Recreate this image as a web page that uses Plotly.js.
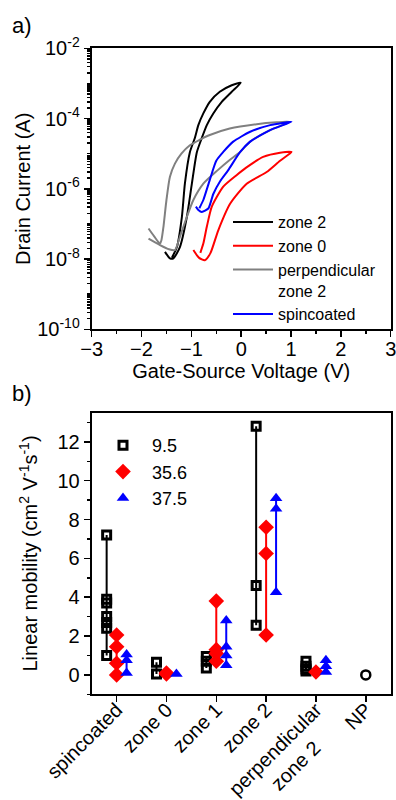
<!DOCTYPE html>
<html><head><meta charset="utf-8">
<script src="https://cdn.plot.ly/plotly-3.0.1.min.js"></script>
<style>html,body{margin:0;padding:0;background:#fff;}#chart{width:396px;height:800px;}</style>
</head><body><div id="chart"></div>
<script>
// ---------- Panel a: transfer curves (gate voltage in V, drain current in A) ----------
const zone2V = [-1.53, -1.43, -1.36, -1.23, -1.09, -0.99, -0.89, -0.79, -0.69, -0.56, -0.39, -0.19, -0.01, -0.19, -0.43, -0.63, -0.76, -0.86, -0.93, -1.03, -1.13, -1.19, -1.29, -1.39];
const zone2I = [1.6e-8, 1.05e-8, 1.05e-8, 2.2e-8, 1.6e-7, 1.4e-6, 1.1e-5, 2.8e-5, 6.5e-5, 1.4e-4, 3.0e-4, 5.8e-4, 1.05e-3, 8.9e-4, 5.8e-4, 3.0e-4, 1.4e-4, 6.5e-5, 2.8e-5, 1.1e-5, 1.4e-6, 1.6e-7, 2.2e-8, 1.1e-8];

const zone0V = [-0.96, -0.85, -0.73, -0.62, -0.46, -0.22, 0.11, 0.51, 0.78, 1.01, 0.78, 0.44, 0.10, -0.10, -0.36, -0.59, -0.69, -0.76, -0.82];
const zone0I = [1.8e-8, 1.1e-8, 9.3e-9, 1.45e-8, 6.6e-8, 3.8e-7, 1.4e-6, 3.0e-6, 6.3e-6, 1.12e-5, 1.07e-5, 8.1e-6, 4.0e-6, 2.4e-6, 1.15e-6, 3.1e-7, 8.3e-8, 2.75e-8, 1.5e-8];

const perpV = [-1.86, -1.75, -1.63, -1.60, -1.56, -1.50, -1.43, -1.33, -1.20, -1.03, -0.83, -0.63, -0.23, 0.31, 0.71, 0.98, 0.58, 0.18, -0.02, -0.25, -0.47, -0.76, -0.96, -1.09, -1.23, -1.33, -1.45, -1.63, -1.86];
const perpI = [7.4e-8, 4.5e-8, 2.75e-8, 3.5e-8, 8.3e-8, 4.8e-7, 2.2e-6, 5.2e-6, 1.0e-5, 1.74e-5, 2.5e-5, 3.4e-5, 5.2e-5, 6.9e-5, 7.8e-5, 8.1e-5, 4.7e-5, 2.2e-5, 1.12e-5, 6.3e-6, 3.4e-6, 1.4e-6, 4.8e-7, 1.6e-7, 4.3e-8, 1.8e-8, 1.9e-8, 2.5e-8, 3.8e-8];

const spinV = [-0.91, -0.86, -0.79, -0.66, -0.56, -0.42, -0.26, -0.02, 0.18, 0.58, 1.01, 0.58, 0.18, -0.16, -0.36, -0.50, -0.63, -0.76, -0.84];
const spinI = [3.1e-7, 2.5e-7, 2.2e-7, 2.75e-7, 7.1e-7, 1.66e-6, 3.4e-6, 1.12e-5, 2.2e-5, 4.7e-5, 8.1e-5, 6.5e-5, 4.2e-5, 2.2e-5, 1.12e-5, 6.3e-6, 1.8e-6, 4.8e-7, 2.8e-7];

const curveNames = ['zone 2', 'zone 0', 'perpendicular<br>zone 2', 'spincoated'];
const curveColors = ['#000000', '#ff0000', '#808080', '#0000ff'];

const yMajorVals = [1e-10, 1e-8, 1e-6, 1e-4, 1e-2];
const yMajorLabels = ['10<sup>-10</sup>', '10<sup>-8</sup>', '10<sup>-6</sup>', '10<sup>-4</sup>', '10<sup>-2</sup>'];
const yDecadeExps = [-10, -9, -8, -7, -6, -5, -4, -3];
const yMinorDigits = [1, 2, 3, 4, 5, 6, 7, 8, 9];

// ---------- Panel b: linear mobility per sample type ----------
const categories = ['spincoated', 'zone 0', 'zone 1', 'zone 2', 'perpendicular<br>zone 2', 'NP'];
const seriesNames = ['9.5', '35.6', '37.5'];
const mob95 = [[7.2, 3.9, 3.7, 3.0, 2.7, 2.4, 1.0], [0.65, 0.05], [0.95, 0.7, 0.35], [12.8, 4.6, 2.55], [0.7, 0.45, 0.3, 0.2], []];
const mob356 = [[2.05, 1.45, 0.6, 0.0], [0.1, 0.05], [3.8, 1.3, 1.1, 0.7], [7.6, 6.25, 2.05], [0.15], []];
const mob375 = [[1.05, 0.75, 0.1], [0.05], [2.8, 1.45, 1.0, 0.5], [9.1, 8.55, 4.25], [0.75, 0.45, 0.15], []];
const mobNP = [0.0];

const FONT = 'Liberation Sans, Arial, sans-serif';
const traces = [];
const allV = [zone2V, zone0V, perpV, spinV];
const allI = [zone2I, zone0I, perpI, spinI];
for (let k = 0; k < 4; k++) {
  traces.push({
    x: allV[k], y: allI[k], type: 'scatter', mode: 'lines',
    name: curveNames[k], line: {color: curveColors[k], width: 2, shape: 'spline', smoothing: 0.6},
    xaxis: 'x', yaxis: 'y', legend: 'legend'
  });
}

const offsets = [-0.2, 0, 0.2];
const mobSeries = [mob95, mob356, mob375];
const mColors = ['#000000', '#ff0000', '#0000ff'];
const mSymbols = ['square-open', 'diamond', 'triangle-up'];
const mSizes = [8, 12, 11];
for (let s = 0; s < 3; s++) {
  const lx = [], ly = [], px = [], py = [];
  mobSeries[s].forEach((vals, i) => {
    const xs = i + offsets[s];
    const sorted = vals.slice().sort((a, b) => b - a);
    sorted.forEach(v => { lx.push(xs); ly.push(v); px.push(xs); py.push(v); });
    lx.push(null); ly.push(null);
  });
  traces.push({x: lx, y: ly, type: 'scatter', mode: 'lines', line: {color: mColors[s], width: 2},
    showlegend: false, hoverinfo: 'skip', xaxis: 'x2', yaxis: 'y2', connectgaps: false});
  traces.push({x: px, y: py, type: 'scatter', mode: 'markers', name: seriesNames[s],
    marker: {color: mColors[s], symbol: mSymbols[s], size: mSizes[s], line: {color: mColors[s], width: s === 0 ? 3 : 0}},
    xaxis: 'x2', yaxis: 'y2', legend: 'legend2'});
}
traces.push({x: mobNP.map(() => 5), y: mobNP, type: 'scatter', mode: 'markers', showlegend: false,
  marker: {color: '#000', symbol: 'circle-open', size: 9, line: {color: '#000', width: 2.5}}, xaxis: 'x2', yaxis: 'y2'});

// minor log ticks: every digit of every decade
const yMinorVals = [];
yDecadeExps.forEach(e => yMinorDigits.forEach(d => yMinorVals.push(d * Math.pow(10, e))));

// centre the two-line category label (second line padded so lines look centred)
const NB = '\u00a0';
const catText = categories.map(c => c.indexOf('<br>') >= 0 ? c + NB.repeat(5) : c);

const W = 396, H = 800;
const xdom = [91.7 / W, 390.7 / W];
const axCommon = {showline: true, mirror: true, linecolor: '#000', linewidth: 2, ticks: 'outside', tickcolor: '#000', tickwidth: 1.5,
  showgrid: false, zeroline: false, ticklabeloverflow: 'allow', tickfont: {family: FONT, size: 20, color: '#000'}};

const layout = {
  width: W, height: H, margin: {l: 0, r: 0, t: 0, b: 0}, paper_bgcolor: '#fff', plot_bgcolor: '#fff',
  font: {family: FONT, color: '#000'},
  xaxis: Object.assign({}, axCommon, {domain: xdom, anchor: 'y', range: [-3, 3], dtick: 1, tick0: -3, ticklen: 6, ticklabelstandoff: -5,
    minor: {dtick: 0.5, ticks: 'outside', ticklen: 3, tickcolor: '#000'},
    title: {text: 'Gate-Source Voltage (V)', font: {family: FONT, size: 20, color: '#000'}, standoff: 4}}),
  yaxis: Object.assign({}, axCommon, {domain: [1 - 329.3 / H, 1 - 48.3 / H], anchor: 'x', type: 'log', range: [-10, -2],
    tickmode: 'array', tickvals: yMajorVals, ticktext: yMajorLabels, ticklen: 6,
    minor: {tickmode: 'array', tickvals: yMinorVals, ticks: 'outside', ticklen: 3, tickcolor: '#000'},
    title: {text: 'Drain Current (A)', font: {family: FONT, size: 20, color: '#000'}, standoff: 1}}),
  xaxis2: Object.assign({}, axCommon, {domain: xdom, anchor: 'y2', range: [-0.5, 5.5], tickmode: 'array',
    tickvals: categories.map((c, i) => i), ticktext: catText, tickangle: -45, ticklen: 6, ticklabelstandoff: -12}),
  yaxis2: Object.assign({}, axCommon, {domain: [1 - 694.3 / H, 1 - 412.7 / H], anchor: 'x2', range: [-1, 13.5], dtick: 2, tick0: 0, ticklen: 6,
    minor: {dtick: 1, ticks: 'outside', ticklen: 3, tickcolor: '#000'},
    title: {text: 'Linear mobility (cm<sup>2</sup> V<sup>-1</sup>s<sup>-1</sup>)', font: {family: FONT, size: 20, color: '#000'}, standoff: 14}}),
  legend: {x: 228 / W, y: 1 - 205 / H, xanchor: 'left', yanchor: 'top', bgcolor: 'rgba(0,0,0,0)', valign: 'top',
    font: {family: FONT, size: 16, color: '#000'}, tracegroupgap: 0, itemwidth: 40},
  legend2: {x: 94 / W, y: 1 - 427 / H, xanchor: 'left', yanchor: 'top', bgcolor: 'rgba(0,0,0,0)',
    font: {family: FONT, size: 18, color: '#000'}, tracegroupgap: 0, itemwidth: 48},
  annotations: [
    {text: 'a)', xref: 'paper', yref: 'paper', x: 10 / W, y: 1 - 26 / H, xanchor: 'left', yanchor: 'middle', showarrow: false, font: {family: FONT, size: 22, color: '#000'}},
    {text: 'b)', xref: 'paper', yref: 'paper', x: 10 / W, y: 1 - 393 / H, xanchor: 'left', yanchor: 'middle', showarrow: false, font: {family: FONT, size: 22, color: '#000'}}
  ]
};

Plotly.newPlot('chart', traces, layout, {displayModeBar: false, staticPlot: true});
</script>
</body></html>
